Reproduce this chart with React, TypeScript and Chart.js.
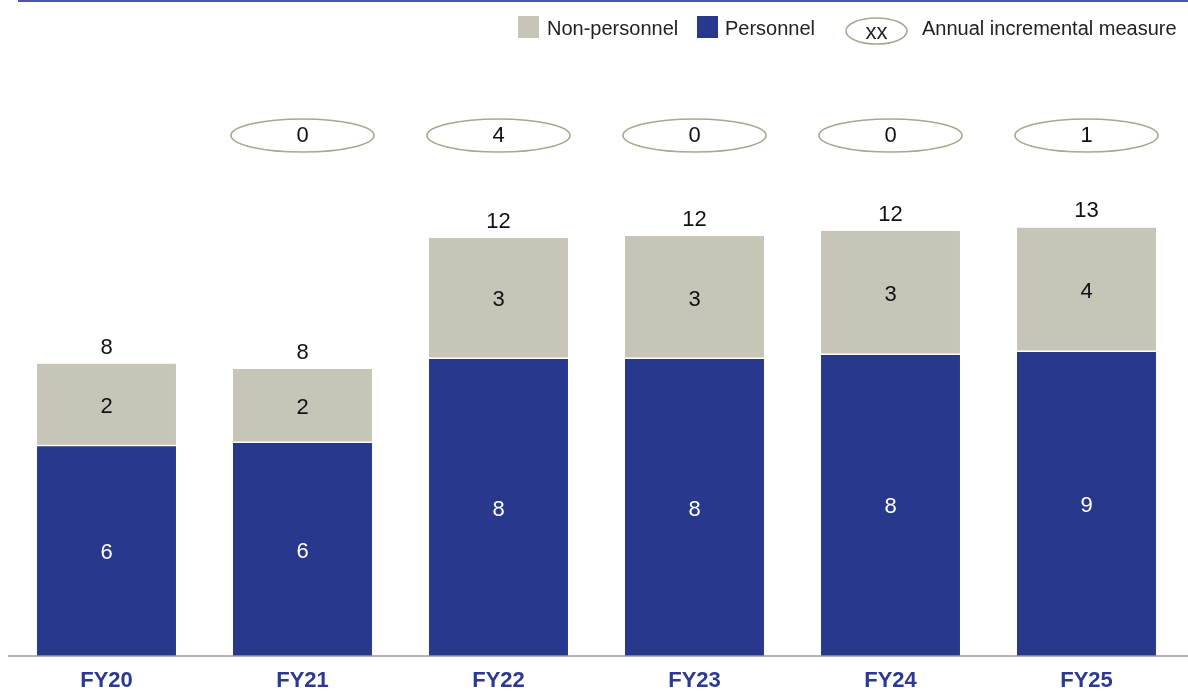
import React, { useEffect, useRef } from "react";
import { Chart, registerables } from "chart.js";

Chart.register(...registerables);

// ---- data ----
const categories = ["FY20", "FY21", "FY22", "FY23", "FY24", "FY25"];
const personnel = [6.12, 6.21, 8.66, 8.66, 8.78, 8.87];
const nonPersonnel = [2.41, 2.16, 3.54, 3.59, 3.62, 3.63];
const personnelLabels = ["6", "6", "8", "8", "8", "9"];
const nonPersonnelLabels = ["2", "2", "3", "3", "3", "4"];
const totalLabels = ["8", "8", "12", "12", "12", "13"];
const incrementalMeasure: (string | null)[] = [null, "0", "4", "0", "0", "1"];
const seriesNames = ["Non-personnel", "Personnel", "Annual incremental measure"];
const legendSample = "xx";

const BLUE = "#27388d";
const GREY = "#c6c5b8";
const LABEL_BLUE = "#2b3990";
const ELLIPSE = "#a8a690";
const FONT = "'Liberation Sans', Arial, sans-serif";

const overlayPlugin = {
  id: "overlay",
  afterDraw(chart: any) {
    const ctx = chart.ctx as CanvasRenderingContext2D;
    const area = chart.chartArea;
    ctx.save();

    // top rule
    ctx.fillStyle = "#4b57a7";
    ctx.fillRect(18, 0, 1170, 2);

    // baseline axis
    ctx.strokeStyle = "#9a9a9a";
    ctx.lineWidth = 1.5;
    ctx.beginPath();
    ctx.moveTo(8, area.bottom);
    ctx.lineTo(1188, area.bottom);
    ctx.stroke();

    // legend
    ctx.textBaseline = "alphabetic";
    ctx.textAlign = "left";
    ctx.font = `20px ${FONT}`;
    ctx.fillStyle = GREY;
    ctx.fillRect(518, 16, 21, 22);
    ctx.fillStyle = "#222";
    ctx.fillText(seriesNames[0], 547, 35);
    ctx.fillStyle = BLUE;
    ctx.fillRect(697, 16, 21, 22);
    ctx.fillStyle = "#222";
    ctx.fillText(seriesNames[1], 725, 35);
    ctx.beginPath();
    ctx.ellipse(876.5, 31, 30.5, 13, 0, 0, Math.PI * 2);
    ctx.fillStyle = "#fff";
    ctx.fill();
    ctx.strokeStyle = ELLIPSE;
    ctx.lineWidth = 1.6;
    ctx.stroke();
    ctx.fillStyle = "#222";
    ctx.textAlign = "center";
    ctx.font = `22px ${FONT}`;
    ctx.fillText(legendSample, 876.5, 38.5);
    ctx.font = `20px ${FONT}`;
    ctx.textAlign = "left";
    ctx.fillText(seriesNames[2], 922, 35);

    // data labels
    const m0 = chart.getDatasetMeta(0);
    const m1 = chart.getDatasetMeta(1);
    ctx.font = `22px ${FONT}`;
    ctx.textAlign = "center";
    for (let i = 0; i < categories.length; i++) {
      const b0 = m0.data[i];
      const b1 = m1.data[i];
      ctx.fillStyle = "#ffffff";
      ctx.fillText(personnelLabels[i], b0.x, (b0.y + b0.base) / 2 + 8);
      ctx.fillStyle = "#111";
      ctx.fillText(nonPersonnelLabels[i], b1.x, (b1.y + b1.base) / 2 + 8);
      ctx.fillText(totalLabels[i], b1.x, b1.y - 10);

      const inc = incrementalMeasure[i];
      if (inc !== null) {
        ctx.beginPath();
        ctx.ellipse(b1.x, 135.5, 71.5, 16.5, 0, 0, Math.PI * 2);
        ctx.fillStyle = "#fff";
        ctx.fill();
        ctx.strokeStyle = ELLIPSE;
        ctx.lineWidth = 1.6;
        ctx.stroke();
        ctx.fillStyle = "#111";
        ctx.fillText(inc, b1.x, 142);
      }
    }
    ctx.restore();
  },
};

export default function App() {
  const ref = useRef<HTMLCanvasElement | null>(null);

  useEffect(() => {
    document.body.style.margin = "0";
    const canvas = ref.current;
    if (!canvas) return;
    const chart = new Chart(canvas, {
      type: "bar",
      data: {
        labels: categories,
        datasets: [
          {
            label: seriesNames[1],
            data: personnel,
            backgroundColor: BLUE,
            borderWidth: 0,
            stack: "s",
          },
          {
            label: seriesNames[0],
            data: nonPersonnel,
            backgroundColor: GREY,
            borderColor: "#ffffff",
            borderWidth: { top: 0, left: 0, right: 0, bottom: 1.5 },
            borderSkipped: false,
            stack: "s",
          },
        ],
      },
      options: {
        responsive: false,
        animation: false,
        devicePixelRatio: 1,
        layout: { padding: { top: 176, left: 8.5, right: 3.5, bottom: 0 } },
        datasets: { bar: { categoryPercentage: 0.709, barPercentage: 1 } },
        plugins: {
          legend: { display: false },
          title: { display: false },
          tooltip: { enabled: false },
        },
        scales: {
          x: {
            stacked: true,
            grid: { display: false, drawTicks: false },
            border: { display: false },
            ticks: {
              color: LABEL_BLUE,
              font: { family: FONT, size: 22, weight: "bold" },
              padding: 12,
              maxRotation: 0,
            },
            afterFit: (scale: any) => {
              scale.height = 37;
            },
          },
          y: {
            stacked: true,
            display: false,
            min: 0,
            max: 14,
          },
        },
      },
      plugins: [overlayPlugin],
    });
    return () => chart.destroy();
  }, []);

  return (
    <div style={{ position: "fixed", left: 0, top: 0, width: 1188, height: 693, background: "#fff" }}>
      <canvas ref={ref} width={1188} height={693} style={{ display: "block", width: 1188, height: 693 }} />
    </div>
  );
}
